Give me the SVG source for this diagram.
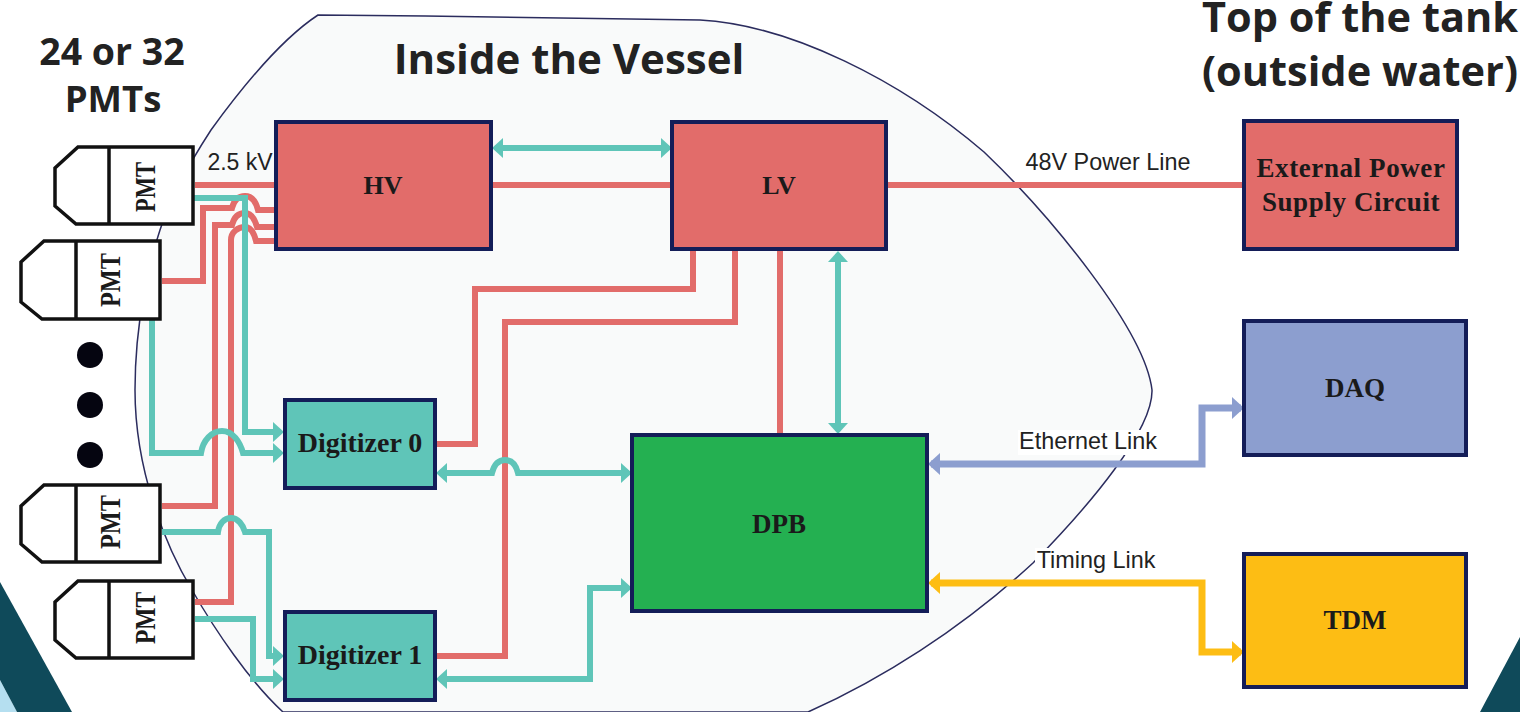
<svg xmlns="http://www.w3.org/2000/svg" width="1520" height="712" viewBox="0 0 1520 712">
<style>
.box{stroke:#141d58;stroke-width:4}
.t{font-family:"Liberation Serif",serif;font-weight:bold;fill:#1a1a1a;text-anchor:middle}
.h{font-family:"Open Sans","Noto Sans",sans-serif;font-weight:700;fill:#222;text-anchor:middle}
.l{font-family:"Liberation Sans",sans-serif;font-size:23.4px;fill:#222;text-anchor:middle}
.r{fill:none;stroke:#e26c6a;stroke-width:6}
.g{fill:none;stroke:#5fc5b8;stroke-width:6}
.b{fill:none;stroke:#8c9ecf;stroke-width:7}
.y{fill:none;stroke:#fdbd14;stroke-width:7}
.pmt{fill:#fff;stroke:#111;stroke-width:3.5}
.pt{font-size:30px}
</style>
<defs>
<marker id="ag" viewBox="0 0 11 20" refX="8" refY="10" markerWidth="11" markerHeight="20" markerUnits="userSpaceOnUse" orient="auto-start-reverse"><path d="M0 0L11 10L0 20z" fill="#5fc5b8"/></marker>
<marker id="ab" viewBox="0 0 12 22" refX="9" refY="11" markerWidth="12" markerHeight="22" markerUnits="userSpaceOnUse" orient="auto-start-reverse"><path d="M0 0L12 11L0 22z" fill="#8c9ecf"/></marker>
<marker id="ay" viewBox="0 0 12 22" refX="9" refY="11" markerWidth="12" markerHeight="22" markerUnits="userSpaceOnUse" orient="auto-start-reverse"><path d="M0 0L12 11L0 22z" fill="#fdbd14"/></marker>
</defs>
<rect width="1520" height="712" fill="#fff"/>
<path d="M0 680L17 712H0z" fill="#b5dff0"/>
<path d="M0 582L72 712H17L0 680z" fill="#0f4a5a"/>
<path d="M1520 637V712H1480z" fill="#0f4a5a"/>
<path id="vessel" d="M318 15C450 16 600 18 700 20C790 25 900 80 984 152C1050 215 1145 330 1152 390C1153 430 1090 505 1033 563C960 630 880 680 808 712H283C250 682 215 630 192 590C165 545 135 470 135 390C135 320 150 260 160 230C168 205 185 170 211 130C240 90 280 40 318 15Z" fill="#f9fafa" stroke="#2b2c5e" stroke-width="1.5"/>
<rect x="1018" y="430" width="142" height="25" fill="#fff"/>
<rect x="1035" y="548" width="123" height="25" fill="#fff"/>
<g id="connectors">
<path class="r" d="M195 185H276"/>
<path class="r" d="M492 185H672"/>
<path class="r" d="M886 185H1244" stroke-width="7"/>
<path class="r" d="M162 281H203V208H232C234 200 238 196 245 196C252 196 256 202 258 210H276"/>
<path class="r" d="M162 506H215V225H232C234 217 238 213 245 213C252 213 255 220 257 227H276"/>
<path class="r" d="M195 602H231V240C231 232 238 227 245 227C251 227 254 233 256 241H276"/>
<path class="r" d="M436 444H475V289H693V250"/>
<path class="r" d="M436 656H505V322H735V250"/>
<path class="r" d="M780 250V434"/>
<path class="g" d="M192 198H245V432H281" marker-end="url(#ag)"/>
<path class="g" d="M152 320V453H201C203 440 212 431 222 431C233 431 240 442 243 453H281" marker-end="url(#ag)"/>
<path class="g" d="M162 532H218C219 524 224 518 231 518C238 518 243 525 245 532H269V656H281" marker-end="url(#ag)"/>
<path class="g" d="M195 619H253V679H281" marker-end="url(#ag)"/>
<path class="g" d="M495 148H669" marker-start="url(#ag)" marker-end="url(#ag)"/>
<path class="g" d="M838 254V431" marker-start="url(#ag)" marker-end="url(#ag)"/>
<path class="g" d="M439 473H492C494 465 498 460 505 460C512 460 516 465 518 473H629" marker-start="url(#ag)" marker-end="url(#ag)"/>
<path class="g" d="M439 679H590V588H629" marker-start="url(#ag)" marker-end="url(#ag)"/>
<path class="b" d="M931 464H1202V408H1241" marker-start="url(#ab)" marker-end="url(#ab)"/>
<path class="y" d="M931 583H1202V652H1241" marker-start="url(#ay)" marker-end="url(#ay)"/>
</g>
<g id="pmt1"><path class="pmt" d="M109 147H78L55 168V206L76 224H193V147ZM109 147V224"/><text class="t pt" textLength="50" lengthAdjust="spacingAndGlyphs" transform="translate(155 187) rotate(-90)">PMT</text></g>
<g id="pmt2"><path class="pmt" d="M76 241H44L21 262V302L42 319H160V241ZM76 241V319"/><text class="t pt" textLength="54" lengthAdjust="spacingAndGlyphs" transform="translate(120 280) rotate(-90)">PMT</text></g>
<g id="pmt3"><path class="pmt" d="M76 485H44L21 506V544L42 562H160V485ZM76 485V562"/><text class="t pt" textLength="54" lengthAdjust="spacingAndGlyphs" transform="translate(120 522) rotate(-90)">PMT</text></g>
<g id="pmt4"><path class="pmt" d="M109 581H78L55 602V640L76 658H193V581ZM109 581V658"/><text class="t pt" textLength="52" lengthAdjust="spacingAndGlyphs" transform="translate(155 618) rotate(-90)">PMT</text></g>
<g id="dots"><circle cx="90" cy="355" r="13" fill="#050510"/><circle cx="90" cy="405" r="13" fill="#050510"/><circle cx="90" cy="455" r="13" fill="#050510"/></g>
<g id="hv"><rect class="box" x="276" y="122" width="215" height="127" fill="#e26c6a"/><text class="t" font-size="26" x="383" y="194">HV</text></g>
<g id="lv"><rect class="box" x="672" y="122" width="214" height="127" fill="#e26c6a"/><text class="t" font-size="26" x="779" y="194">LV</text></g>
<g id="eps"><rect class="box" x="1244" y="121" width="213" height="128" fill="#e26c6a"/><text class="t" font-size="27" letter-spacing=".6" x="1351" y="177">External Power</text><text class="t" font-size="27" letter-spacing=".6" x="1351" y="211">Supply Circuit</text></g>
<g id="dig0"><rect class="box" x="285" y="400" width="150" height="88" fill="#5fc5b8"/><text class="t" font-size="28" x="360" y="452">Digitizer 0</text></g>
<g id="dig1"><rect class="box" x="285" y="612" width="150" height="88" fill="#5fc5b8"/><text class="t" font-size="28" x="360" y="664">Digitizer 1</text></g>
<g id="dpb"><rect class="box" x="632" y="435" width="295" height="176" fill="#24b051"/><text class="t" font-size="27" x="779" y="533">DPB</text></g>
<g id="daq"><rect class="box" x="1244" y="321" width="222" height="134" fill="#8c9ecf"/><text class="t" font-size="27" x="1355" y="397">DAQ</text></g>
<g id="tdm"><rect class="box" x="1244" y="554" width="222" height="133" fill="#fdbd14"/><text class="t" font-size="27" x="1355" y="629">TDM</text></g>
<g id="labels">
<text class="h" x="112" y="65" font-size="37.5">24 or 32</text>
<text class="h" x="113" y="112" font-size="36.5">PMTs</text>
<text class="h" x="569" y="74" font-size="42">Inside the Vessel</text>
<text class="h" x="1360" y="32" font-size="41.5">Top of the tank</text>
<text class="h" x="1360" y="86" font-size="41.5">(outside water)</text>
<text class="l" x="240" y="170" style="font-size:23px">2.5 kV</text>
<text class="l" x="1108" y="170">48V Power Line</text>
<text class="l" x="1088" y="449">Ethernet Link</text>
<text class="l" x="1096" y="568">Timing Link</text>
</g>
</svg>
